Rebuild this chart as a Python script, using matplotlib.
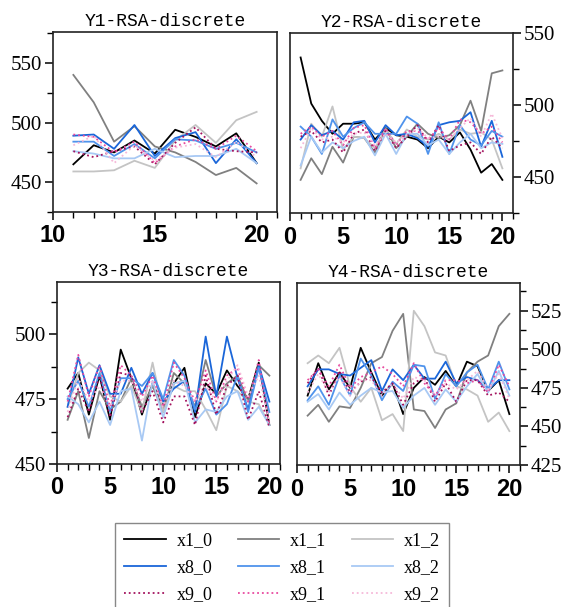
import numpy as np
import matplotlib
matplotlib.use("Agg")
import matplotlib.pyplot as plt
from matplotlib.ticker import MultipleLocator

# series names / styles order
names = ["x1_0", "x1_1", "x1_2", "x8_0", "x8_1", "x8_2", "x9_0", "x9_1", "x9_2"]

# Y1 (x = 11..20)
t1 = list(range(11, 21))
y1 = {
    "x1_0": [465, 481, 475, 485, 474, 494, 488, 480, 491, 466],
    "x1_1": [540, 517, 484, 497, 480, 475, 467, 456, 462, 449],
    "x1_2": [459, 459, 460, 468, 462, 485, 498, 483, 502, 509],
    "x8_0": [489, 490, 478, 498, 472, 487, 492, 466, 486, 466],
    "x8_1": [484, 484, 472, 482, 470, 486, 485, 478, 483, 475],
    "x8_2": [476, 474, 470, 470, 478, 471, 472, 472, 478, 466],
    "x9_0": [476, 471, 476, 480, 465, 483, 496, 478, 476, 475],
    "x9_1": [490, 488, 475, 484, 466, 480, 486, 478, 489, 476],
    "x9_2": [481, 489, 466, 481, 468, 479, 482, 471, 484, 471],
}

# Y2 (x = 1..20)
t2 = list(range(1, 21))
y2 = {
    "x1_0": [533, 501, 489, 480, 487, 487, 488, 476, 484, 479, 478, 476, 470, 478, 474, 481, 469, 453, 459, 448],
    "x1_1": [448, 463, 452, 471, 460, 478, 477, 467, 484, 470, 478, 487, 480, 477, 479, 486, 503, 482, 522, 524],
    "x1_2": [456, 487, 478, 499, 469, 478, 477, 470, 483, 473, 483, 478, 476, 480, 476, 483, 480, 481, 476, 456],
    "x8_0": [476, 486, 479, 482, 476, 488, 489, 474, 486, 479, 480, 477, 471, 486, 488, 489, 495, 471, 489, 464],
    "x8_1": [485, 478, 466, 490, 478, 484, 488, 480, 480, 480, 492, 487, 466, 488, 466, 486, 476, 472, 482, 478],
    "x8_2": [458, 478, 467, 474, 470, 475, 478, 465, 480, 466, 480, 480, 472, 476, 466, 474, 480, 470, 474, 473],
    "x9_0": [478, 482, 474, 476, 467, 480, 483, 468, 482, 470, 478, 486, 474, 486, 468, 472, 474, 466, 478, 470],
    "x9_1": [480, 485, 478, 482, 472, 484, 486, 470, 484, 472, 482, 482, 476, 484, 476, 490, 488, 480, 485, 474],
    "x9_2": [470, 484, 476, 478, 474, 480, 481, 472, 480, 474, 479, 484, 477, 478, 476, 484, 491, 478, 494, 477],
}

# Y3 (x = 1..20)
t3 = list(range(1, 21))
y3 = {
    "x1_0": [479, 485, 469, 484, 467, 494, 483, 469, 481, 472, 481, 487, 468, 481, 477, 486, 480, 475, 489, 465],
    "x1_1": [467, 478, 460, 478, 471, 474, 483, 472, 480, 470, 485, 481, 472, 490, 476, 481, 484, 474, 488, 484],
    "x1_2": [472, 485, 489, 486, 476, 474, 480, 470, 489, 470, 480, 478, 478, 471, 463, 480, 478, 474, 473, 465],
    "x8_0": [472, 491, 477, 488, 477, 477, 487, 477, 485, 474, 479, 482, 470, 499, 476, 499, 483, 471, 488, 474],
    "x8_1": [475, 482, 472, 485, 470, 483, 483, 480, 485, 475, 490, 484, 471, 479, 469, 473, 484, 470, 487, 470],
    "x8_2": [476, 473, 466, 474, 465, 478, 479, 459, 482, 468, 481, 482, 466, 471, 470, 476, 478, 467, 472, 465],
    "x9_0": [468, 479, 470, 484, 468, 485, 484, 470, 478, 466, 476, 476, 465, 484, 469, 480, 484, 467, 478, 464],
    "x9_1": [474, 492, 476, 488, 472, 488, 484, 476, 484, 472, 489, 483, 474, 486, 474, 484, 487, 474, 490, 465],
    "x9_2": [470, 483, 474, 480, 472, 482, 482, 474, 482, 472, 482, 480, 474, 480, 474, 482, 488, 476, 484, 466],
}

# Y4 (x = 1..20)
t4 = list(range(1, 21))
y4 = {
    "x1_0": [470, 491, 474, 485, 475, 501, 485, 470, 478, 458, 475, 482, 477, 486, 476, 492, 489, 473, 480, 458],
    "x1_1": [457, 464, 453, 463, 462, 475, 491, 495, 512, 523, 461, 460, 449, 461, 465, 485, 492, 496, 515, 523],
    "x1_2": [491, 496, 491, 501, 476, 466, 475, 454, 458, 447, 525, 515, 498, 496, 476, 474, 470, 453, 459, 447],
    "x8_0": [476, 487, 487, 484, 483, 488, 493, 473, 487, 480, 490, 481, 481, 492, 478, 482, 480, 474, 480, 480],
    "x8_1": [467, 476, 464, 483, 470, 494, 483, 467, 479, 473, 490, 489, 468, 484, 476, 485, 490, 474, 492, 474],
    "x8_2": [466, 471, 461, 472, 464, 470, 475, 472, 473, 462, 470, 475, 464, 474, 466, 476, 484, 472, 486, 470],
    "x9_0": [478, 488, 470, 486, 472, 479, 482, 472, 478, 464, 478, 482, 466, 478, 466, 480, 480, 470, 472, 466],
    "x9_1": [480, 487, 476, 490, 475, 482, 485, 489, 484, 476, 491, 478, 470, 480, 480, 478, 480, 472, 490, 476],
    "x9_2": [472, 484, 472, 482, 470, 480, 480, 470, 478, 468, 482, 480, 470, 478, 474, 480, 486, 474, 484, 468],
}

titles = ["Y1-RSA-discrete", "Y2-RSA-discrete", "Y3-RSA-discrete", "Y4-RSA-discrete"]

colors = {
    "x1_0": "#000000", "x1_1": "#808080", "x1_2": "#c4c4c4",
    "x8_0": "#1a66d9", "x8_1": "#4f93ec", "x8_2": "#a8c9f4",
    "x9_0": "#a3125e", "x9_1": "#e8499f", "x9_2": "#f6b9d9",
}
styles = {n: (":" if n.startswith("x9") else "-") for n in names}

fig = plt.figure(figsize=(5.64, 6.07), dpi=100)

W, H = 564.0, 607.0
def box(l, t, r, b):
    return [l / W, 1 - b / H, (r - l) / W, (b - t) / H]

axes = [
    fig.add_axes(box(53, 32, 277, 212)),
    fig.add_axes(box(290, 33, 513, 213)),
    fig.add_axes(box(57, 282, 280, 464)),
    fig.add_axes(box(297, 283, 520, 465)),
]
data = [(t1, y1), (t2, y2), (t3, y3), (t4, y4)]

serif = "Liberation Serif"
for i, ax in enumerate(axes):
    t, d = data[i]
    for n in names:
        ax.plot(t, d[n], color=colors[n], linestyle=styles[n], lw=1.3, label=n)
    ax.set_title(titles[i], family="Liberation Mono", fontsize=13, pad=4)
    for s in ax.spines.values():
        s.set_linewidth(1.2)
        s.set_color("#222222")
    ax.xaxis.set_major_locator(MultipleLocator(5))
    ax.xaxis.set_minor_locator(MultipleLocator(1))
    ax.tick_params(axis="x", which="major", length=6, width=1.1, labelsize=17, pad=3)
    ax.tick_params(axis="x", which="minor", length=4, width=1.0)
    ax.tick_params(axis="y", which="major", length=6, width=1.1, labelsize=15, pad=2)
    ax.tick_params(axis="y", which="minor", length=4, width=1.0)
    if i % 2 == 1:
        ax.yaxis.tick_right()
        ax.yaxis.set_label_position("right")

axes[0].set_xlim(10, 21)
axes[0].set_ylim(425, 576)
axes[0].yaxis.set_major_locator(MultipleLocator(50))
axes[0].yaxis.set_minor_locator(MultipleLocator(25))

axes[1].set_xlim(0, 21)
axes[1].set_ylim(425, 550)
axes[1].yaxis.set_major_locator(MultipleLocator(50))
axes[1].yaxis.set_minor_locator(MultipleLocator(25))

axes[2].set_xlim(0, 21)
axes[2].set_ylim(450, 520)
axes[2].yaxis.set_major_locator(MultipleLocator(25))
axes[2].yaxis.set_minor_locator(MultipleLocator(12.5))

axes[3].set_xlim(0, 21)
axes[3].set_ylim(425, 543)
axes[3].yaxis.set_major_locator(MultipleLocator(25))
axes[3].yaxis.set_minor_locator(MultipleLocator(12.5))

for ax in axes:
    for lab in ax.get_xticklabels():
        lab.set_family("Liberation Sans")
        lab.set_fontweight("bold")
    for lab in ax.get_yticklabels():
        lab.set_family(serif)

# legend, column-wise fill
order = ["x1_0", "x8_0", "x9_0", "x1_1", "x8_1", "x9_1", "x1_2", "x8_2", "x9_2"]
hl = {l.get_label(): l for l in axes[0].get_lines()}
leg = fig.legend([hl[n] for n in order], order, ncol=3, loc="upper center",
                 bbox_to_anchor=(282 / W, 1 - 523 / H), borderaxespad=0,
                 prop={"family": serif, "size": 13}, fancybox=False,
                 edgecolor="#888888", framealpha=1,
                 handlelength=2.3, handletextpad=0.6, columnspacing=1.4,
                 labelspacing=0.55, borderpad=0.5)
leg.get_frame().set_linewidth(1.0)

fig.savefig("out.png", dpi=100)
